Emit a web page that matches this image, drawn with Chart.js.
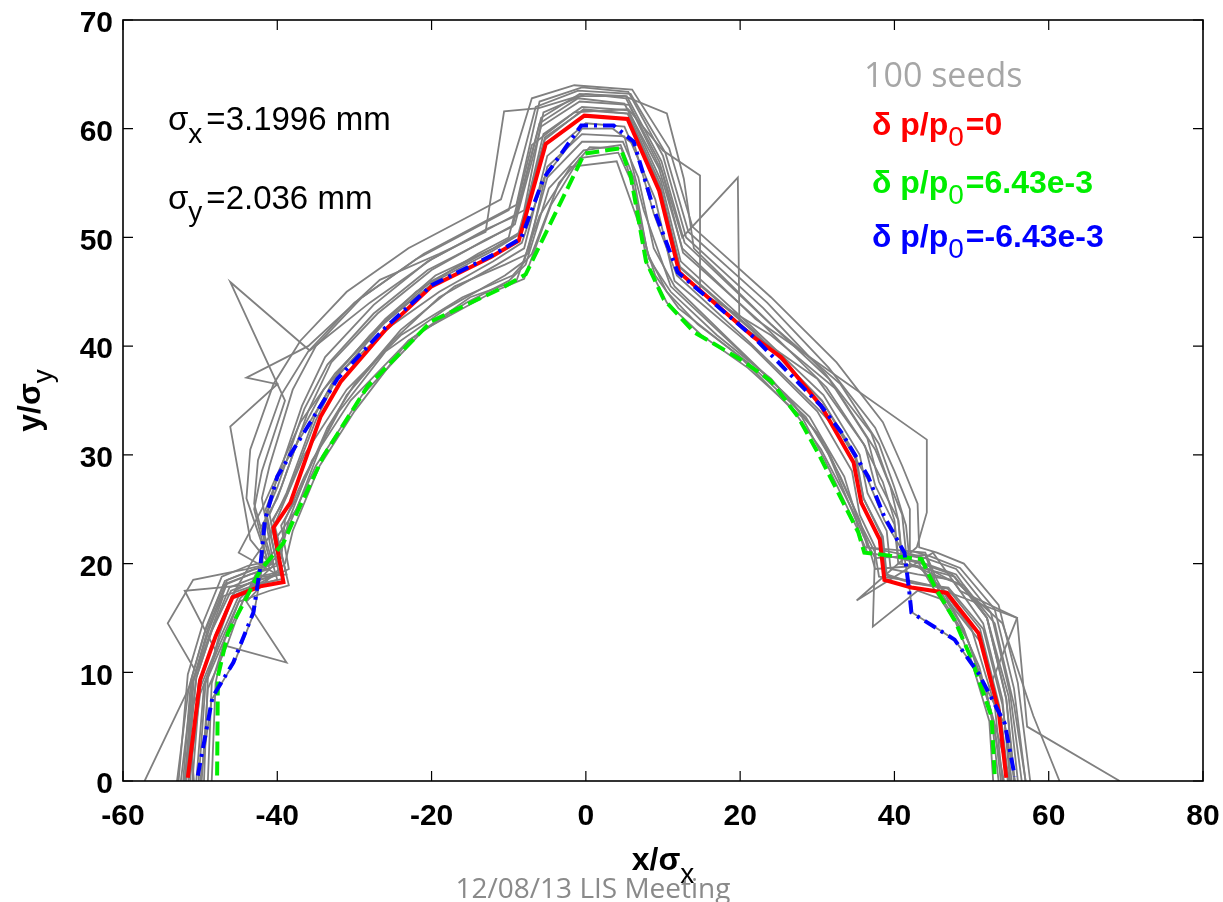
<!DOCTYPE html>
<html>
<head>
<meta charset="utf-8">
<script src="https://cdn.jsdelivr.net/npm/chart.js@4.4.0/dist/chart.umd.min.js"></script>
<style>
  html, body { margin: 0; padding: 0; background: #fff; }
  #wrap { width: 1223px; height: 902px; position: relative; }
</style>
</head>
<body>
<div id="wrap"><canvas id="c"></canvas></div>
<script>
// axis ticks
const xTicks = [-60, -40, -20, 0, 20, 40, 60, 80];
const yTicks = [0, 10, 20, 30, 40, 50, 60, 70];

// dynamic aperture contours, [x/sigma_x, y/sigma_y]
const dp0 = [[-51.6,0.3],[-50,9.3],[-48,13.3],[-45.8,16.9],[-42.2,17.9],[-39.2,18.3],[-40.5,23.3],[-38.3,25.6],[-34.4,33.5],[-31.8,36.7],[-26,41.5],[-20,45.5],[-12.3,48.2],[-8.7,49.7],[-5.2,58.6],[-0.2,61.2],[5.4,60.9],[9.5,54.3],[12.1,46.8],[21.8,40.8],[25.3,39],[30.5,34.5],[34.7,29.3],[35.7,25.6],[38.1,22.2],[38.7,18.5],[42.2,17.8],[46.8,17.3],[50.9,13.6],[53.5,6.5],[54.5,0.3]];
const dpPlus = [[-47.8,0.5],[-47.7,9.6],[-46.4,13.6],[-43.9,17],[-42.2,19.4],[-39.2,21.9],[-37.9,24],[-34,29.9],[-28.3,36.3],[-20,42.3],[-11,45.3],[-7.8,46.6],[-0.2,57.7],[4.5,58.2],[5.8,55.7],[7.8,47.8],[10.1,44.3],[14,41.3],[20,38.8],[24,36.8],[27.5,33.5],[30.3,29.9],[35.3,22.9],[36.1,21],[43.5,20.4],[45.2,17.9],[47.8,14.8],[50,11.2],[52.6,5.9],[53,0.4]];
const dpMinus = [[-50.3,0.5],[-48.4,7.7],[-45.7,10.9],[-43.1,15.5],[-42.2,19.7],[-41.6,24],[-40,28],[-37.9,30.5],[-32.2,37],[-26,41.7],[-20,45.6],[-12.3,48.3],[-8.4,49.9],[-5.5,55.4],[-0.6,60.3],[3.6,60.3],[6.2,58.8],[8.8,52.6],[11.9,46.8],[21.8,40.8],[30.5,34.5],[33.1,32.1],[36.6,28],[38.7,24.3],[41.3,21],[41.9,17.6],[42.2,15.5],[47.8,13],[50.9,9.9],[54.3,5.3],[55.6,0.4]];

// individual seeds
const seed01 = [[-52.5,0],[-51,9],[-49,14],[-46.5,18.5],[-43,19.5],[-40.5,20],[-42,26],[-41,29],[-38,36],[-35,40],[-29,44.5],[-21,48.5],[-13,51.5],[-9,53],[-6,62.5],[-0.5,63.8],[5.5,63.4],[10,57.5],[13,50],[23,43.5],[31,37.5],[37,32],[39,28],[41,24.5],[41.5,21],[44,20.5],[48,19.5],[52.5,15.5],[55,8],[56.5,0]];
const seed02 = [[-53,0],[-51.5,8.5],[-49.5,13.5],[-47,18],[-43.5,19],[-41,19.5],[-43,25],[-42,28.5],[-39,35],[-46.1,45.9],[-35.8,39.6],[-28,44],[-20,48],[-12,51],[-8,52.5],[-5.5,61.5],[0,63.2],[5.2,62.8],[9.5,57],[12.5,50],[19.7,55.5],[19.9,42],[30,37],[36,31],[38.5,27.5],[40,24],[40.5,20.5],[43.5,20],[47.5,19],[52,15],[54.5,7.5],[55.5,0]];
const seed03 = [[-48.5,0],[-48,9],[-46.8,13],[-44.5,16.5],[-42.8,19],[-40,21.5],[-38.5,23.5],[-35,29],[-29,35.5],[-21,41.5],[-12,45],[-8,46.2],[-4.5,53],[-0.8,57.3],[4.2,57.8],[6,55],[8,47.5],[10.5,44],[15,41],[21,38],[28,33.5],[31,29.5],[35,23.5],[36.5,21],[43,20.2],[45,17.8],[48,14.5],[50,11],[52.3,5.5],[52.8,0]];
const seed04 = [[-50.5,0],[-49.5,8.8],[-47.5,13],[-45,17],[-41.5,18.5],[-38.5,19.5],[-39.5,23.5],[-37.5,26],[-33.5,32.5],[-30,36.5],[-24,41.5],[-17,45.5],[-10.5,47.5],[-7.5,48.5],[-5,56.5],[-0.5,59.5],[5,59.3],[7.5,52.5],[11,45.5],[20,39.5],[29,33.5],[33.5,28],[35,24.5],[37.5,21],[38,18.8],[41.5,18.5],[46,17.8],[50,14],[53,7],[54,0]];
const seed05 = [[-52,0],[-50.5,9.5],[-48.5,13.8],[-46,17.5],[-42.5,18.5],[-39.5,19],[-41,24.5],[-39.5,27],[-36,34],[-33,38.5],[-27,43],[-20,47],[-13,49.8],[-9.5,51],[-6,60.5],[-1,62.8],[5,62.3],[9.5,56.3],[12.5,49],[22,42.5],[32,37.5],[44.2,31.4],[44.2,24.7],[42.9,21.5],[35.1,16.6],[45,21],[48.5,17.5],[55.9,15],[57.2,5],[69.2,0]];
const seed06 = [[-57.2,0],[-50.5,10],[-54.2,14.5],[-50.9,18.5],[-44,19.5],[-41,20],[-43.5,22.2],[-46.1,32.6],[-40,36.5],[-44,37.1],[-36,40],[-26.7,46.1],[-19,48.5],[-13,50.5],[-10.6,61.6],[-6.1,61.9],[-1,63],[5,63],[10.5,61.4],[12.7,55.4],[14,49],[24,42],[33,36.5],[38,31],[40,27],[41.5,23.5],[42,20],[45,19],[49,18],[53,14.5],[55.5,7],[57,0]];
const seed07 = [[-51,0],[-50,9],[-48,13.5],[-45.5,17.5],[-42,18.8],[-38.8,19],[-40.5,24],[-38.8,26.5],[-35,33.8],[-32,37.8],[-26,42.5],[-19.5,46.5],[-12,49],[-8.5,50.5],[-5.5,59.5],[-0.5,62],[5.5,61.7],[9.7,55.3],[12.3,47.8],[21.5,41.8],[30.8,35.5],[35.5,30],[36.5,26.5],[39,23],[39.5,19.5],[43,19],[47.5,18.5],[51.5,14.5],[54,7.5],[55,0]];
const seed08 = [[-50,0],[-48.5,7.5],[-45.5,11],[-43,15.5],[-42,19.5],[-41.5,24],[-40,28],[-37.5,31],[-32,37.5],[-25,42],[-19,45],[-12,47.8],[-8.3,49.5],[-5.4,55.5],[-0.5,60],[3.5,60],[6.3,58.5],[8.8,52.2],[11.8,46.5],[21,40.5],[30,34.3],[33,32],[36.5,27.8],[38.7,24],[41.2,21],[42,17.5],[42.3,15.5],[47.8,13],[51,9.8],[54.3,5.2],[55.6,0]];
const seed09 = [[-49,0],[-48.5,9],[-47,12.5],[-38.8,10.9],[-44,16.5],[-42,18],[-39,20],[-38,23],[-34.5,29],[-30,34],[-23,40.5],[-15,44.5],[-9,46],[-6,52],[-2,56.5],[4,57],[6.5,52],[9,46.5],[12,43.5],[20,39],[27,34],[30.5,30.5],[34.5,25],[36,22.5],[37.5,20.5],[44,20.8],[46,17],[49.5,13],[52.5,6.5],[53.5,0]];
const seed10 = [[-52,0],[-51,9],[-49,13],[-47,17],[-43,18],[-40,18.5],[-42,23.5],[-40,26],[-37,32],[-34,36],[-28,41],[-22,45],[-14,48.5],[-10,50],[-7,58.5],[-1.5,61.5],[5.5,61.8],[10,58],[14.8,55.7],[14.8,45],[24,41],[32.5,36],[37.5,30.5],[39.5,27],[40.5,24],[41,20],[44.5,19.5],[48.5,18],[54,14.5],[58,6],[61.4,0]];
const seed11 = [[-51.5,0],[-50,8],[-47.5,12.5],[-45,16.5],[-41,17.5],[-38.5,18],[-40,22.5],[-37.5,25],[-34,31.5],[-31,35.5],[-25,40.5],[-19,44.5],[-11.5,47.5],[-8,49],[-5,57.5],[0,60.5],[5,60.2],[9,53.5],[11.5,46],[21.5,40],[30,34],[34.5,28.5],[35.5,24.5],[37.5,21.5],[37.2,14.2],[43,17.5],[47,16.5],[51.5,12.5],[53.8,6],[54.8,0]];
const seed12 = [[-49.5,0],[-49,9.5],[-47.5,13.5],[-45.5,17.5],[-43,20.5],[-41,22.5],[-39.5,25],[-36.5,30],[-31,36],[-24,41],[-16,44.5],[-9.5,46.5],[-7,48.5],[-3.5,55],[0.5,58.3],[4.6,58.2],[6.2,54.5],[8.2,48],[11,45],[17,41],[24,37],[30,32],[33,28],[35.5,24],[36.5,21.5],[43.5,20.5],[45.5,18],[48.5,14.5],[51,10.5],[53,5],[53.8,0]];
const seed13 = [[-51.8,0],[-50.8,9.5],[-48.8,14],[-46.5,18.2],[-42.8,19.2],[-40,19.8],[-41.5,25],[-40,27.8],[-36.8,34.5],[-33.8,39],[-27.5,43.8],[-20.5,47.8],[-12.8,50.8],[-9,52],[-5.8,61],[-0.8,63.2],[5.3,63],[9.8,57],[12.8,49.5],[22.5,43],[31.5,37],[36.5,31.5],[38,27.5],[40.5,24],[41,20.5],[44,20],[48,19],[52,15],[54.8,7.8],[56,0]];
const seed14 = [[-49.8,0],[-49,8.5],[-46.5,12.5],[-44.5,16.5],[-42.5,19],[-39.5,21],[-38.5,24],[-35.5,29.5],[-30.5,35],[-23,40.5],[-15.5,44],[-10,46],[-7.8,47.5],[-4.8,54.5],[-0.3,58],[4.5,58.5],[6.2,55.5],[8,48.5],[10.5,45],[14.5,42],[21,38.5],[28.5,33.5],[31.5,30],[35,24],[36,21.5],[44,21],[45.5,18.5],[49,14],[51.5,9],[53.5,4],[55,0]];
const seed15 = [[-52.2,0],[-51.2,9.2],[-49.2,14.2],[-46.8,18.4],[-43.2,19.4],[-40.8,19.9],[-43,25.5],[-42.5,29.5],[-39.5,35.5],[-36,39.5],[-30,44],[-22,48],[-14,51],[-10,52.5],[-6.5,62],[-1,63.5],[5.8,63.2],[10.3,57.8],[13.3,50.5],[23.5,44],[31.5,38],[37.5,32.5],[40,28.5],[42,25],[42,21.2],[44.5,20.7],[48.5,19.6],[53,15.8],[55.5,8.5],[57,0]];
const seed16 = [[-52.8,0],[-51.6,9.8],[-49.6,14.6],[-47.2,18.8],[-43.8,19.8],[-41.2,20.2],[-44,26],[-43.5,30.5],[-40.5,36.5],[-37,40.5],[-31,45],[-23,49],[-15,52],[-11,53.5],[-7,62.8],[-1.5,64],[6,63.6],[10.8,58.2],[13.8,51],[24,44.5],[32.5,38.5],[38.5,33],[41,29],[43,25.5],[43.2,21.5],[45.5,21],[49,20],[53.5,16.2],[56,9],[57.6,0]];
const seed17 = [[-51.8,0],[-50.5,9.5],[-48.5,13.8],[-46.2,17.8],[-42.6,18.8],[-39.8,19.2],[-41.5,24.5],[-40,27],[-36.5,34.2],[-33.5,38.3],[-27.5,43],[-20.5,47],[-12.8,49.8],[-9.2,51.2],[-5.8,60.2],[-0.8,62.5],[5.6,62.2],[9.9,56],[12.6,48.6],[22.5,42.3],[31.2,36.2],[36.2,30.8],[37.5,27.2],[40,23.6],[40.5,20],[43.5,19.6],[47.8,18.8],[52,15],[54.5,7.6],[55.6,0]];
const seed18 = [[-50.2,0],[-49.3,9],[-47,12.8],[-44.8,16.8],[-42.3,18.6],[-39.5,20.5],[-39,24],[-36.5,28],[-32,34],[-26,39.5],[-18,43.5],[-10.5,46.5],[-8,47.8],[-5,55.5],[-0.5,58.8],[4.8,58.8],[6.8,55.5],[8.8,49],[11.5,45.5],[18,41],[26,35.5],[31,31],[34.5,25.5],[36.5,22],[37.5,19.5],[43,19.8],[46.5,17.5],[55.9,15],[52,8],[54.2,0]];
const seed19 = [[-50.8,0],[-51.5,6],[-48,12],[-52,17.5],[-44.5,18],[-40,19],[-45,21],[-42,25],[-37,33],[-32.5,37.5],[-26,42.2],[-19.5,46],[-12,48.8],[-8.6,50.3],[-5.3,59],[-0.3,61.8],[5.5,61.4],[9.6,55],[12.2,47.3],[21.8,41.4],[30.6,35],[35,30],[36,26],[38.5,22.5],[39,19],[42.5,18.2],[47,17.8],[51.5,14],[54,7],[55.2,0]];
const seed20 = [[-51.3,0],[-50.2,9],[-48.2,13],[-45.9,17],[-42.3,18.1],[-39.3,18.6],[-40.8,23.8],[-38.8,26.2],[-35,33.2],[-32.2,37.2],[-26.3,42],[-20,46],[-12.5,48.8],[-8.8,50.2],[-5.3,59.2],[-0.3,61.7],[5.4,61.4],[9.5,54.8],[12.2,47.2],[21.9,41.2],[30.6,35],[34.9,29.8],[36,26],[38.3,22.6],[38.9,18.9],[42.3,18.2],[46.9,17.7],[51.1,14],[53.6,6.9],[54.7,0]];
const seedRuns = [seed01, seed02, seed03, seed04, seed05, seed06, seed07, seed08, seed09, seed10,
                  seed11, seed12, seed13, seed14, seed15, seed16, seed17, seed18, seed19, seed20];

const SANS = '"Liberation Sans", Arial, sans-serif';
const toXY = pts => pts.map(([x, y]) => ({ x, y }));

// text with a subscript; parts = [[text, font, dy, gapAfter]]
function drawParts(ctx, x, y, parts, color) {
  ctx.fillStyle = color;
  ctx.textBaseline = 'alphabetic';
  ctx.textAlign = 'left';
  let cx = x;
  for (const [t, font, dy, gap] of parts) {
    ctx.font = font;
    ctx.fillText(t, cx, y + (dy || 0));
    cx += ctx.measureText(t).width + (gap || 0);
  }
  return cx - x;
}
function partsWidth(ctx, parts) {
  let w = 0;
  for (const [t, font, , gap] of parts) { ctx.font = font; w += ctx.measureText(t).width + (gap || 0); }
  return w;
}

const frame = {
  id: 'frame',
  afterDatasetsDraw(chart) {
    const { ctx, chartArea: a, scales: { x, y } } = chart;
    ctx.save();
    ctx.strokeStyle = '#000';
    ctx.lineWidth = 1.6;
    ctx.strokeRect(a.left, a.top, a.right - a.left, a.bottom - a.top);
    ctx.lineWidth = 1.2;
    ctx.beginPath();
    xTicks.forEach(v => {
      const px = x.getPixelForValue(v);
      ctx.moveTo(px, a.bottom); ctx.lineTo(px, a.bottom - 10);
      ctx.moveTo(px, a.top); ctx.lineTo(px, a.top + 10);
    });
    yTicks.forEach(v => {
      const py = y.getPixelForValue(v);
      ctx.moveTo(a.left, py); ctx.lineTo(a.left + 10, py);
      ctx.moveTo(a.right, py); ctx.lineTo(a.right - 10, py);
    });
    ctx.stroke();
    ctx.restore();
  },
  afterDraw(chart) {
    const { ctx, chartArea: a } = chart;
    const big = `33px ${SANS}`, sub = `28px ${SANS}`;
    const bold = `bold 32px ${SANS}`;
    ctx.save();
    // beam sizes
    drawParts(ctx, 168, 130, [['σ', big, 0, 0], ['x', sub, 13, 4], ['=3.1996 mm', big]], '#000');
    drawParts(ctx, 168, 209, [['σ', big, 0, 0], ['y', sub, 12, 4], ['=2.036 mm', big]], '#000');

    // legend
    ctx.font = `34px "Open Sans", sans-serif`;
    ctx.fillStyle = '#a6a6a6';
    ctx.fillText('100 seeds', 864, 87);
    drawParts(ctx, 872, 135, [['δ p/p', bold], ['0', sub, 11, 2], ['=0', bold]], '#ff0000');
    drawParts(ctx, 872, 193, [['δ p/p', bold], ['0', sub, 11, 2], ['=6.43e-3', bold]], '#00ee00');
    drawParts(ctx, 872, 247, [['δ p/p', bold], ['0', sub, 11, 2], ['=-6.43e-3', bold]], '#0000ff');

    // axis titles
    const xt = [['x/σ', bold], ['x', sub, 13]];
    const cxm = (a.left + a.right) / 2;
    drawParts(ctx, cxm - partsWidth(ctx, xt) / 2, 870, xt, '#000');
    const yt = [['y/σ', bold], ['y', sub, 12]];
    ctx.translate(40, (a.top + a.bottom) / 2);
    ctx.rotate(-Math.PI / 2);
    drawParts(ctx, -partsWidth(ctx, yt) / 2, 0, yt, '#000');
    ctx.setTransform(1, 0, 0, 1, 0, 0);

    // footer
    ctx.font = `28px "Open Sans", sans-serif`;
    ctx.fillStyle = '#8a8a8a';
    ctx.textAlign = 'center';
    ctx.fillText('12/08/13 LIS Meeting', 593, 898);
    ctx.restore();
  }
};

const datasets = [
  { data: toXY(dpMinus), borderColor: '#0000ff', borderWidth: 4, borderDash: [13, 6, 3, 6], order: 0 },
  { data: toXY(dpPlus), borderColor: '#00ee00', borderWidth: 4, borderDash: [14, 6], order: 1 },
  { data: toXY(dp0), borderColor: '#ff0000', borderWidth: 4, order: 2 },
  ...seedRuns.map(s => ({ data: toXY(s), borderColor: '#808080', borderWidth: 1.8, order: 3 }))
];

const tickFont = { family: SANS, size: 30, weight: 'bold' };

new Chart(document.getElementById('c'), {
  type: 'scatter',
  data: { datasets: datasets.map(d => ({ ...d, showLine: true, pointRadius: 0, tension: 0, fill: false })) },
  options: {
    responsive: true,
    maintainAspectRatio: false,
    animation: false,
    events: [],
    layout: { padding: { left: 0, right: 20, top: 20, bottom: 0 } },
    plugins: { legend: { display: false }, tooltip: { enabled: false } },
    scales: {
      x: {
        type: 'linear', min: -60, max: 80,
        afterBuildTicks: s => { s.ticks = xTicks.map(value => ({ value })); },
        afterFit: s => { s.height = 121; s.paddingLeft = 0; s.paddingRight = 0; },
        grid: { display: false, drawTicks: false },
        border: { display: false },
        ticks: { font: tickFont, color: '#000', padding: 18, maxRotation: 0 }
      },
      y: {
        type: 'linear', min: 0, max: 70,
        afterBuildTicks: s => { s.ticks = yTicks.map(value => ({ value })); },
        afterFit: s => { s.width = 123; s.paddingTop = 0; s.paddingBottom = 0; },
        grid: { display: false, drawTicks: false },
        border: { display: false },
        ticks: { font: tickFont, color: '#000', padding: 10, labelOffset: 4 }
      }
    }
  },
  plugins: [frame]
});
</script>
</body>
</html>
